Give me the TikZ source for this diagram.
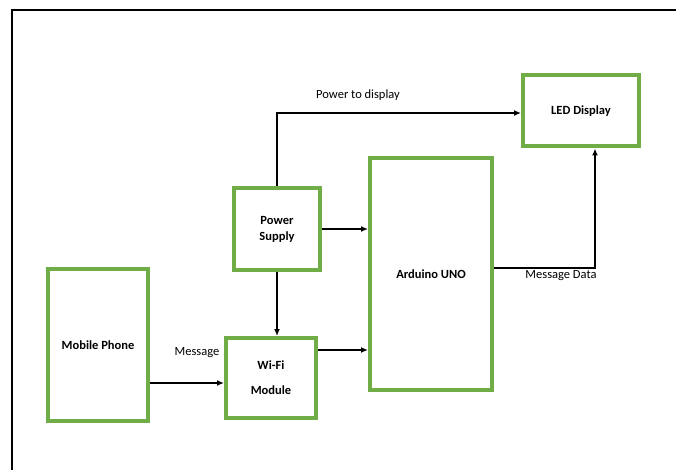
\documentclass[tikz,border=0pt]{standalone}
\usepackage{fontspec}
\setmainfont{Carlito}
\usepackage{tikz}
\usetikzlibrary{positioning, arrows.meta}
\usepackage{xcolor}
\definecolor{BoxGreen}{RGB}{112, 173, 71}

\begin{document}
\begin{tikzpicture}[x=1pt, y=-1pt]
        \tikzstyle{block} = [rectangle, draw=BoxGreen, line width=4pt, fill=white,
          align=center, font=\fontsize{12.5}{16}\selectfont\bfseries, inner sep=0pt]
        \tikzstyle{arr} = [line width=1.8pt, -{Latex[length=7pt, width=6pt]}]
        \tikzstyle{lbl} = [font=\fontsize{12.5}{15}\selectfont, inner sep=1pt]

        \useasboundingbox (0,0) rectangle (676,470);
        \draw[line width=1.3pt] (12,10) rectangle (700,490);

        \node[block, minimum width=100pt, minimum height=152pt] (phone) at (98,345) {Mobile Phone};
        \node[block, minimum width=90pt, minimum height=80pt, font=\fontsize{12.5}{25}\selectfont\bfseries] (wifi) at (271,378) {Wi-Fi\\Module};
        \node[block, minimum width=86pt, minimum height=82pt] (power) at (277,229) {Power\\Supply};
        \node[block, minimum width=122pt, minimum height=232pt] (arduino) at (431,274) {Arduino UNO};
        \node[block, minimum width=116pt, minimum height=71pt] (led) at (581,111) {LED Display};

        \draw[arr] (power.north) |- ([yshift=-2pt]led.west);
        \draw[arr] (power.east) -- (power.east -| arduino.west);
        \draw[arr] (power.south) -- (power.south |- wifi.north);
        \draw[arr] ([yshift=28pt]wifi.east) -- ([yshift=28pt]wifi.east -| arduino.west);
        \draw[arr] ([yshift=-38pt]phone.east) -- ([yshift=-5pt]wifi.west);
        \draw[arr] ([yshift=6pt]arduino.east) -| ([xshift=14pt]led.south);

        \node[lbl] (lblpower) at (358,95) {Power to display};
        \node[lbl] (lbldata) at (561,276) {Message Data};
        \node[lbl] (lblmsg) at (197,353) {Message};
      \end{tikzpicture}
\end{document}
